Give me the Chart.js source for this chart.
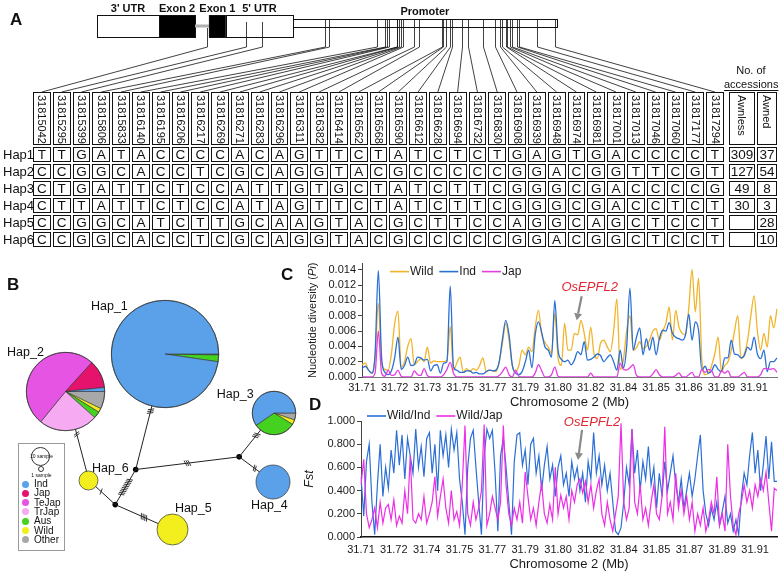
<!DOCTYPE html>
<html>
<head>
<meta charset="utf-8">
<title>OsEPFL2 haplotypes</title>
<script src="https://cdn.jsdelivr.net/npm/chart.js@4.4.1/dist/chart.umd.min.js"></script>
<style>
  body { margin: 0; background: #fff; font-family: "Liberation Sans", Arial, sans-serif; color: #111; }
  #fig { position: relative; width: 780px; height: 572px; overflow: hidden; }
  #fig canvas { position: absolute; }
  .tag { position: absolute; font-weight: bold; font-size: 17px; line-height: 1; }
  #snpTable { position: absolute; left: 0; top: 92px; display: grid;
    grid-template-columns: 31px repeat(35, 17.8px) 1px 26px 20px;
    grid-template-rows: 53px repeat(6, 15px); column-gap: 2px; row-gap: 2px; }
  .cell { border: 1px solid #111; box-sizing: border-box; display: flex; align-items: center;
    justify-content: center; font-size: 13.5px; line-height: 1; }
  .head { writing-mode: vertical-rl; font-size: 11px; justify-content: flex-start; padding-top: 2px; }
  .rowlab { font-size: 13px; display: flex; align-items: center; padding-left: 3px; }
  #acc { position: absolute; left: 724px; top: 63px; width: 54px; text-align: center; font-size: 11px; line-height: 14px; }
  #acc u { text-underline-offset: 2px; }
  #legB { position: absolute; left: 18px; top: 443px; width: 47px; height: 108px; border: 1px solid #9a9a9a; box-sizing: border-box; }
  #legB .sz { position: absolute; border: 1px solid #333; border-radius: 50%; box-sizing: border-box; }
  #legB .tiny { position: absolute; left: 0; width: 100%; text-align: center; font-size: 5px; line-height: 5px; }
  #legB .dot { position: absolute; left: 3px; width: 7px; height: 7px; border-radius: 50%; }
  #legB .lab { position: absolute; left: 15px; font-size: 10px; line-height: 10px; }
</style>
</head>
<body>
<div id="fig">
  <canvas id="geneChart" width="780" height="93" style="left:0;top:0"></canvas>
  <div class="tag" style="left:10px;top:11px">A</div>
  <div id="acc">No. of<br><u>accessions</u></div>
  <div id="snpTable"></div>
  <canvas id="netChart" width="330" height="322" style="left:0;top:250px"></canvas>
  <div class="tag" style="left:7px;top:276px">B</div>
  <div id="legB"></div>
  <canvas id="piChart" width="480" height="155" style="left:300px;top:255px"></canvas>
  <canvas id="fstChart" width="480" height="167" style="left:300px;top:405px"></canvas>
  <div class="tag" style="left:281px;top:266px">C</div>
  <div class="tag" style="left:309px;top:396px">D</div>
</div>

<script>
// ── A : structure du gène et SNP ─────────────────────────────
const geneView = [31813702, 31818750];           // fenêtre affichée (pb)
const partName  = ["3' UTR", 'Exon 2', '', 'Exon 1', "5' UTR", 'Promoter'];
const partKind  = ['utr', 'exon', 'intron', 'exon', 'utr', 'promoter'];
const partStart = [31814330, 31814731, 31814964, 31815054, 31815164, 31815598];
const partEnd   = [31814731, 31814964, 31815054, 31815164, 31815598, 31817306];

const snpPos = [31815042, 31815295, 31815399, 31815806, 31815833, 31816140, 31816195,
  31816206, 31816217, 31816269, 31816271, 31816283, 31816296, 31816311, 31816382,
  31816414, 31816562, 31816568, 31816590, 31816612, 31816628, 31816694, 31816732,
  31816830, 31816908, 31816939, 31816948, 31816974, 31816981, 31817001, 31817013,
  31817046, 31817060, 31817177, 31817294];
const hapNames = ['Hap1', 'Hap2', 'Hap3', 'Hap4', 'Hap5', 'Hap6'];
const hapSeqs = [
  'TTGATACCCCACAGTTCTATCTCTGAGTGACCCCT',
  'CCGGCACCTCGCAGGTACGCCCCCGGACGGTTCGT',
  'CTGATTCTCCATTGTGCTATCTTCGGGCGACCCCG',
  'CTTATTCTCCATAGTTCTATCTTCGGGCGACCTCT',
  'CCGGCATCTTGCAAGTACGCTTCCAGGCAGCTCCT',
  'CCGGCACCTCGCAGGTACGCCCCCGGACGGCTCCT'
];
const awnless = [309, 127, 49, 30, null, null];
const awned   = [37, 54, 8, 3, 28, 10];

// ── B : réseau d'haplotypes ──────────────────────────────────
const groupNames  = ['Ind', 'Jap', 'TeJap', 'TrJap', 'Aus', 'Wild', 'Other'];
const groupColors = ['#5ba1ea', '#e5136b', '#e654e3', '#f5aaf1', '#45d11f', '#f3ef1e', '#a8a8a8'];
const nInd   = [338, 3, 34, 33, 0, 0];
const nJap   = [0, 21, 0, 0, 0, 0];
const nTeJap = [0, 92, 0, 0, 0, 0];
const nTrJap = [0, 44, 0, 0, 0, 0];
const nAus   = [7, 5, 18, 0, 0, 0];
const nWild  = [0, 3, 2, 0, 28, 10];
const nOther = [1, 13, 3, 0, 0, 0];
const groupCounts = [nInd, nJap, nTeJap, nTrJap, nAus, nWild, nOther];

const nodeNames = ['Hap_1', 'Hap_2', 'Hap_3', 'Hap_4', 'Hap_5', 'Hap_6', 'mv1', 'mv2', 'mv3'];
const nodeX = [165, 63, 277, 276, 173, 87, 135, 241, 114];
const nodeY = [103, 141, 163, 234, 283, 232, 221, 208, 257];
const labelX = [108, 22, 237, 272, 194, 109];
const labelY = [54, 101, 144, 258, 261, 220];
const edgeFrom = [1, 5, 8, 8, 6, 6, 7, 7];
const edgeTo   = [5, 8, 4, 6, 0, 7, 2, 3];
const edgeMut  = [2, 1, 4, 10, 3, 3, 3, 2];
const hatchAt  = [0.12, 0.28, 0.66, 0.5, 0.93, 0.5, 0.8, 0.75];

// ── C : diversité nucléotidique (Pi) ─────────────────────────
const piTicks = ['31.71', '31.72', '31.73', '31.75', '31.77', '31.79', '31.80', '31.82', '31.84', '31.85', '31.86', '31.89', '31.91'];
const piYTicks = [0, 0.002, 0.004, 0.006, 0.008, 0.010, 0.012, 0.014];
const piWild = [0.0016,0.0018,0.0009,0.0005,0.0025,0.0096,0.0018,0.0010,0.0009,0.0030,
  0.0070,0.0086,0.0013,0.0020,0.0040,0.0050,0.0016,0.0020,0.0024,0.0020,
  0.0039,0.0018,0.0021,0.0020,0.0020,0.0020,0.0022,0.0066,0.0009,0.0018,
  0.0026,0.0006,0.0011,0.0007,0.0011,0.0009,0.0015,0.0025,0.0007,0.0009,
  0.0008,0.0007,0.0020,0.0045,0.0070,0.0048,0.0015,0.0007,0.0015,0.0035,
  0.0029,0.0039,0.0033,0.0065,0.0087,0.0055,0.0045,0.0039,0.0031,0.0083,
  0.0025,0.0015,0.0070,0.0035,0.0035,0.0057,0.0055,0.0074,0.0057,0.0035,
  0.0065,0.0030,0.0024,0.0044,0.0048,0.0040,0.0033,0.0060,0.0102,0.0010,
  0.0022,0.0061,0.0080,0.0035,0.0038,0.0046,0.0037,0.0040,0.0048,0.0060,
  0.0063,0.0048,0.0060,0.0070,0.0091,0.0048,0.0087,0.0065,0.0057,0.0055,
  0.0090,0.0140,0.0085,0.0129,0.0022,0.0003,0.0005,0.0015,0.0031,0.0052,
  0.0007,0.0015,0.0020,0.0035,0.0060,0.0080,0.0024,0.0030,0.0048,0.0080,
  0.0106,0.0060,0.0035,0.0057,0.0039,0.0080,0.0064,0.0089];
const piInd = [0.0011,0.0014,0.0009,0.0005,0.0030,0.0139,0.0025,0.0006,0.0003,0.0008,
  0.0025,0.0052,0.0010,0.0015,0.0026,0.0015,0.0016,0.0026,0.0025,0.0022,
  0.0023,0.0008,0.0015,0.0016,0.0005,0.0018,0.0020,0.0119,0.0013,0.0009,
  0.0006,0.0006,0.0008,0.0008,0.0005,0.0006,0.0004,0.0004,0.0007,0.0009,
  0.0008,0.0009,0.0020,0.0050,0.0074,0.0055,0.0015,0.0005,0.0003,0.0007,
  0.0020,0.0035,0.0012,0.0055,0.0072,0.0058,0.0039,0.0035,0.0026,0.0100,
  0.0035,0.0023,0.0020,0.0022,0.0016,0.0022,0.0033,0.0029,0.0046,0.0022,
  0.0023,0.0026,0.0030,0.0028,0.0020,0.0025,0.0029,0.0020,0.0009,0.0035,
  0.0012,0.0040,0.0116,0.0035,0.0052,0.0064,0.0029,0.0050,0.0035,0.0052,
  0.0029,0.0050,0.0061,0.0060,0.0071,0.0057,0.0052,0.0050,0.0048,0.0055,
  0.0082,0.0048,0.0072,0.0061,0.0009,0.0014,0.0005,0.0008,0.0016,0.0010,
  0.0007,0.0025,0.0025,0.0048,0.0030,0.0029,0.0025,0.0028,0.0039,0.0035,
  0.0052,0.0030,0.0024,0.0035,0.0007,0.0020,0.0020,0.0025];
const piJap = [0,0,0,0,0.0005,0.0060,0.0005,0.0001,0.0009,0.0002,
  0.0003,0.0009,0.0001,0,0,0,0.0008,0.0003,0.0002,0.0011,
  0.0002,0,0,0,0,0.0003,0.0010,0.0019,0.0005,0,
  0,0,0,0,0,0,0,0,0,0,
  0,0,0.0002,0.0007,0.0013,0.0003,0,0.0009,0.0001,0,
  0,0,0,0.0005,0.0016,0.0008,0,0,0.0003,0.0013,
  0.0001,0,0,0,0,0,0,0,0,0,
  0.0005,0,0,0,0,0,0,0,0,0.0018,
  0.0010,0.0009,0.0012,0.0016,0.0002,0,0,0,0,0.0004,
  0.00095,0.0003,0,0,0,0,0.0002,0.00055,0,0,
  0.0003,0.0006,0,0,0.0010,0.0006,0.0010,0.0008,0,0,
  0.0008,0.0005,0.0008,0,0,0,0.0003,0.0006,0,0,
  0,0,0.0003,0.0011,0.0011,0.0010,0.0011,0.0006];

// ── D : Fst ─────────────────────────────────────────────────
const fstTicks = ['31.71', '31.72', '31.74', '31.75', '31.77', '31.79', '31.80', '31.82', '31.84', '31.85', '31.87', '31.89', '31.91'];
const fstYTicks = [0, 0.2, 0.4, 0.6, 0.8, 1.0];
const fstInd = [0.52,0.18,0.65,0.80,0.30,0.02,0.45,0.80,0.35,0.60,
  0.42,0.75,0.55,0.92,0.62,0.88,0.50,0.85,0.70,0.55,
  0.93,0.60,0.78,0.52,0.85,0.90,0.55,0.80,0.40,0.92,
  0.70,0.88,0.60,0.93,0.75,0.90,0.50,0.30,0.02,0.60,
  0.85,0.92,0.60,0.30,0.02,0.70,0.93,0.85,0.92,0.55,
  0.05,0.70,0.85,0.60,0.30,0.02,0.65,0.88,0.90,0.62,
  0.75,0.45,0.80,0.85,0.55,0.70,0.40,0.62,0.78,0.50,
  0.62,0.35,0.60,0.70,0.45,0.55,0.35,0.65,0.50,0.60,
  0.40,0.55,0.30,0.65,0.50,0.90,0.55,0.70,0.45,0.62,
  0.40,0.55,0.30,0.05,0.02,0.08,0.30,0.60,0.45,0.93,
  0.55,0.75,0.40,0.65,0.50,0.78,0.45,0.60,0.25,0.55,
  0.35,0.65,0.40,0.55,0.70,0.45,0.30,0.50,0.25,0.40,
  0.55,0.35,0.50,0.70,0.88,0.40,0.20,0.10,0.25,0.15,
  0.30,0.10,0.22,0.35,0.12,0.20,0.05,0.15,0.02,0.35,
  0.55,0.45,0.70,0.90,0.55,0.75,0.40,0.62,0.87,0.50,
  0.82,0.48,0.48];
const fstJap = [0.45,0.67,0.20,0.08,0.15,0.25,0.08,0.30,0.12,0.25,
  0.28,0.15,0.32,0.10,0.18,0.12,0.40,0.20,0.70,0.15,
  0.12,0.20,0.15,0.35,0.12,0.20,0.30,0.52,0.18,0.35,
  0.50,0.25,0.12,0.40,0.15,0.22,0.10,0.45,0.96,0.20,
  0.10,0.30,0.15,0.25,0.40,0.97,0.10,0.20,0.35,0.25,
  0.15,0.30,0.96,0.45,0.20,0.10,0.25,0.15,0.30,0.12,
  0.56,0.35,0.15,0.25,0.10,0.30,0.46,0.20,0.12,0.28,
  0.15,0.60,0.20,0.36,0.25,0.35,0.15,0.40,0.30,0.45,
  0.50,0.38,0.48,0.30,0.45,0.25,0.40,0.50,0.20,0.10,
  0.30,0.15,0.05,0.20,0.35,0.98,0.30,0.15,0.25,0.93,
  0.30,0.20,0.45,0.15,0.25,0.10,0.30,0.45,0.20,0.15,
  0.35,0.95,0.20,0.30,0.15,0.55,0.25,0.40,0.20,0.35,
  0.15,0.30,0.05,0.20,0.10,0.25,0.05,0.15,0.30,0.20,
  0.52,0.10,0.20,0.05,0.80,0.35,0.10,0.02,0.20,0.30,
  0.45,0.30,0.40,0.25,0.45,0.35,0.50,0.40,0.56,0.30,
  0.05,0.42,0.40];
const geneName = 'OsEPFL2';

// ── Réglages communs ─────────────────────────────────────────
const FONT = '"Liberation Sans", Arial, sans-serif';
Chart.defaults.font.family = FONT;
Chart.defaults.color = '#1a1a1a';
Chart.defaults.animation = false;
Chart.defaults.events = [];
Chart.defaults.plugins.legend.display = false;
Chart.defaults.plugins.tooltip.enabled = false;

// ── Tableau des haplotypes (HTML) ────────────────────────────
const tbl = document.getElementById('snpTable');
const addCell = (cls, txt) => {
  const d = document.createElement('div');
  d.className = cls;
  d.textContent = txt == null ? '' : txt;
  tbl.appendChild(d);
};
addCell('', '');
snpPos.forEach(p => addCell('cell head snp', p));
addCell('', '');
addCell('cell head', 'Awnless');
addCell('cell head', 'Awned');
hapNames.forEach((h, r) => {
  addCell('rowlab', h);
  [...hapSeqs[r]].forEach(b => addCell('cell', b));
  addCell('', '');
  addCell('cell', awnless[r]);
  addCell('cell', awned[r]);
});

// ── Modèle du gène + traits vers les colonnes ────────────────
const genePlugin = {
  id: 'geneModel',
  afterDraw(chart, args, o) {
    const { ctx } = chart;
    const px = v => chart.scales.x.getPixelForValue(v);
    const mid = o.bodyTop + o.bodyH / 2;
    ctx.save();
    ctx.strokeStyle = '#111';
    ctx.lineWidth = 1;
    partKind.forEach((k, i) => {
      const a = px(partStart[i]), b = px(partEnd[i]);
      if (k === 'intron') {
        ctx.fillStyle = '#b0b0b0';
        ctx.fillRect(a, mid - 1.5, b - a, 3);
        return;
      }
      const top = k === 'promoter' ? o.promTop : o.bodyTop;
      const h = k === 'promoter' ? o.promH : o.bodyH;
      ctx.fillStyle = k === 'exon' ? '#000' : '#fff';
      ctx.fillRect(a, top, b - a, h);
      ctx.strokeRect(Math.round(a) + 0.5, top + 0.5, Math.round(b - a), h);
    });

    ctx.fillStyle = '#111';
    ctx.font = 'bold 11px "Liberation Sans Narrow", ' + FONT;
    ctx.textAlign = 'center';
    ctx.textBaseline = 'middle';
    partName.forEach((n, i) => {
      if (!n) return;
      const c = (px(partStart[i]) + px(partEnd[i])) / 2;
      ctx.fillText(n, c, partKind[i] === 'promoter' ? o.promLabelY : o.labelY);
    });

    const cv = chart.canvas.getBoundingClientRect();
    const heads = document.querySelectorAll('#snpTable .snp');
    ctx.lineWidth = 0.8;
    ctx.beginPath();
    snpPos.forEach((p, i) => {
      const sx = Math.round(px(p)) + 0.5;
      const kind = partKind[partStart.findIndex((s, j) => p >= s && p < partEnd[j])];
      const y0 = kind === 'promoter' ? o.promTop : kind === 'intron' ? mid + 2 : o.bodyTop + 7;
      const r = heads[i].getBoundingClientRect();
      ctx.moveTo(sx, y0);
      ctx.lineTo(sx, o.kneeY);
      ctx.lineTo(r.left + r.width / 2 - cv.left, r.top - cv.top);
    });
    ctx.stroke();
    ctx.restore();
  }
};

new Chart(document.getElementById('geneChart'), {
  type: 'scatter',
  data: { datasets: [] },
  options: {
    responsive: false,
    layout: { padding: 0 },
    scales: {
      x: { type: 'linear', min: geneView[0], max: geneView[1], display: false },
      y: { display: false }
    },
    plugins: { geneModel: { bodyTop: 15, bodyH: 22, promTop: 19, promH: 8, kneeY: 47, labelY: 9, promLabelY: 12 } }
  },
  plugins: [genePlugin]
});

// ── B : réseau (arêtes, mutations, étiquettes) ───────────────
const PIE_K = 2.9;   // rayon = PIE_K * sqrt(n)
const hapTotal = nodeNames.slice(0, 6).map((_, h) => groupCounts.reduce((s, g) => s + g[h], 0));
const nodeRadius = k => (k < 6 ? PIE_K * Math.sqrt(hapTotal[k]) : 0);

const hatchPlugin = {
  id: 'hatch',
  afterDatasetsDraw(chart) {
    const { ctx } = chart;
    const { x, y } = chart.scales;
    ctx.save();
    ctx.strokeStyle = '#222';
    ctx.lineWidth = 0.9;
    edgeFrom.forEach((a, e) => {
      const b = edgeTo[e];
      const x1 = x.getPixelForValue(nodeX[a]), y1 = y.getPixelForValue(nodeY[a]);
      const x2 = x.getPixelForValue(nodeX[b]), y2 = y.getPixelForValue(nodeY[b]);
      const len = Math.hypot(x2 - x1, y2 - y1);
      const ux = (x2 - x1) / len, uy = (y2 - y1) / len;
      const r1 = nodeRadius(a), r2 = nodeRadius(b);
      const t = r1 + (len - r1 - r2) * hatchAt[e];
      const m = edgeMut[e];
      for (let k = 0; k < m; k++) {
        const s = t + (k - (m - 1) / 2) * 1.9;
        const cx = x1 + ux * s, cy = y1 + uy * s;
        ctx.beginPath();
        ctx.moveTo(cx - uy * 3 + ux * 1.2, cy + ux * 3 + uy * 1.2);
        ctx.lineTo(cx + uy * 3 - ux * 1.2, cy - ux * 3 - uy * 1.2);
        ctx.stroke();
      }
    });
    ctx.fillStyle = '#111';
    ctx.font = '12.5px ' + FONT;
    ctx.textAlign = 'center';
    ctx.textBaseline = 'middle';
    labelX.forEach((lx, k) => ctx.fillText(nodeNames[k], x.getPixelForValue(lx), y.getPixelForValue(labelY[k])));
    ctx.restore();
  }
};

const netCanvas = document.getElementById('netChart');
const netChart = new Chart(netCanvas, {
  type: 'scatter',
  data: {
    datasets: [
      ...edgeFrom.map((a, e) => ({
        data: [{ x: nodeX[a], y: nodeY[a] }, { x: nodeX[edgeTo[e]], y: nodeY[edgeTo[e]] }],
        showLine: true, borderColor: '#222', borderWidth: 1, pointRadius: 0
      })),
      {
        data: nodeX.slice(6).map((vx, i) => ({ x: vx, y: nodeY[6 + i] })),
        pointRadius: 2.8, pointBackgroundColor: '#000', pointBorderWidth: 0
      }
    ]
  },
  options: {
    responsive: false,
    layout: { padding: 0 },
    scales: {
      x: { type: 'linear', min: 0, max: 330, display: false },
      y: { type: 'linear', min: 0, max: 322, reverse: true, display: false }
    }
  },
  plugins: [hatchPlugin]
});

// contour des camemberts (évite le trait radial des disques pleins)
const pieOutline = {
  id: 'pieOutline',
  afterDatasetsDraw(chart) {
    const arc = chart.getDatasetMeta(0).data[0];
    if (!arc) return;
    const { x, y, outerRadius } = arc.getProps(['x', 'y', 'outerRadius'], true);
    const { ctx } = chart;
    ctx.save();
    ctx.strokeStyle = '#333';
    ctx.lineWidth = 0.7;
    ctx.beginPath();
    ctx.arc(x, y, outerRadius, 0, Math.PI * 2);
    ctx.stroke();
    ctx.restore();
  }
};

// camemberts de chaque haplotype
const fig = document.getElementById('fig');
const clockwise = [6, 5, 4, 3, 2, 1, 0];
for (let h = 0; h < 6; h++) {
  const r = nodeRadius(h);
  const size = Math.ceil(2 * r) + 2;
  const cx = netCanvas.offsetLeft + netChart.scales.x.getPixelForValue(nodeX[h]);
  const cy = netCanvas.offsetTop + netChart.scales.y.getPixelForValue(nodeY[h]);
  const cv = document.createElement('canvas');
  cv.width = size; cv.height = size;
  cv.style.left = (cx - size / 2) + 'px';
  cv.style.top = (cy - size / 2) + 'px';
  fig.appendChild(cv);
  const idx = clockwise.filter(g => groupCounts[g][h] > 0);
  new Chart(cv, {
    type: 'pie',
    data: {
      labels: idx.map(g => groupNames[g]),
      datasets: [{
        data: idx.map(g => groupCounts[g][h]),
        backgroundColor: idx.map(g => groupColors[g]),
        borderColor: '#333',
        borderWidth: idx.length > 1 ? 0.6 : 0
      }]
    },
    options: { responsive: false, rotation: 90, layout: { padding: 1 } },
    plugins: [pieOutline]
  });
}

// légende du réseau
const legB = document.getElementById('legB');
legB.innerHTML =
  '<div class="sz" style="left:12px;top:3px;width:19px;height:19px"></div>' +
  '<div class="tiny" style="top:10px">10 sample</div>' +
  '<div class="sz" style="left:19px;top:22px;width:6px;height:6px"></div>' +
  '<div class="tiny" style="top:29px">1 sample</div>';
groupNames.forEach((g, i) => {
  const top = 40 + i * 9.3;
  legB.insertAdjacentHTML('beforeend',
    `<div class="dot" style="top:${top - 3.5}px;background:${groupColors[i]}"></div>` +
    `<div class="lab" style="top:${top - 5}px">${g}</div>`);
});

// ── C & D : légende, titre Y, flèche du gène ─────────────────
const decorPlugin = {
  id: 'decor',
  afterDraw(chart, args, o) {
    const { ctx, chartArea: a, scales } = chart;
    ctx.save();
    ctx.translate(a.left + o.titleDx, (a.top + a.bottom) / 2);
    ctx.rotate(-Math.PI / 2);
    ctx.fillStyle = '#1a1a1a';
    ctx.textBaseline = 'middle';
    ctx.textAlign = 'left';
    const fontOf = it => (it ? 'italic ' : '') + o.titleSize + 'px ' + FONT;
    let w = 0;
    o.title.forEach(p => { ctx.font = fontOf(p[1]); w += ctx.measureText(p[0]).width; });
    let tx0 = -w / 2;
    o.title.forEach(p => { ctx.font = fontOf(p[1]); ctx.fillText(p[0], tx0, 0); tx0 += ctx.measureText(p[0]).width; });
    ctx.restore();

    ctx.save();
    let lx = a.left + o.legDx;
    const ly = a.top + o.legDy;
    ctx.font = '12px ' + FONT;
    ctx.textBaseline = 'middle';
    chart.data.datasets.forEach(ds => {
      ctx.strokeStyle = ds.borderColor;
      ctx.lineWidth = 1.6;
      ctx.beginPath(); ctx.moveTo(lx, ly); ctx.lineTo(lx + 19, ly); ctx.stroke();
      ctx.fillStyle = '#1a1a1a';
      ctx.fillText(ds.label, lx + 20, ly);
      lx += 20 + ctx.measureText(ds.label).width + 6;
    });

    const m = o.mark;
    const tx = scales.x.getPixelForValue(m.idx), ty = scales.y.getPixelForValue(m.val);
    const sx = tx + m.tailDx, sy = ty + m.tailDy;
    const ang = Math.atan2(ty - sy, tx - sx);
    const hx = tx - 7 * Math.cos(ang), hy = ty - 7 * Math.sin(ang);
    ctx.strokeStyle = '#8a8a8a';
    ctx.fillStyle = '#8a8a8a';
    ctx.lineWidth = 2.2;
    ctx.beginPath(); ctx.moveTo(sx, sy); ctx.lineTo(hx, hy); ctx.stroke();
    ctx.beginPath();
    ctx.moveTo(tx, ty);
    ctx.lineTo(hx + 4 * Math.sin(ang), hy - 4 * Math.cos(ang));
    ctx.lineTo(hx - 4 * Math.sin(ang), hy + 4 * Math.cos(ang));
    ctx.closePath(); ctx.fill();
    ctx.fillStyle = '#e0262e';
    ctx.font = 'italic 13px ' + FONT;
    ctx.textAlign = 'center';
    ctx.fillText(m.text, tx + m.textDx, ty + m.textDy);
    ctx.restore();
  }
};

new Chart(document.getElementById('piChart'), {
  type: 'line',
  data: {
    labels: piInd.map((_, i) => i),
    datasets: [
      { label: 'Wild', data: piWild, borderColor: '#f0b429', order: 3 },
      { label: 'Ind', data: piInd, borderColor: '#2a6fd4', order: 2 },
      { label: 'Jap', data: piJap, borderColor: '#e53ce3', order: 1 }
    ]
  },
  options: {
    responsive: false,
    layout: { padding: { top: 8, right: 3, left: 0, bottom: 0 } },
    elements: { point: { radius: 0 }, line: { borderWidth: 1.3, cubicInterpolationMode: 'monotone' } },
    scales: {
      x: {
        grid: { display: false, drawTicks: false },
        border: { color: '#777' },
        ticks: { autoSkip: false, maxRotation: 0, padding: 4, font: { size: 11 },
          callback: (v, i) => (i % 10 === 0 ? piTicks[i / 10] : null) },
        title: { display: true, text: 'Chromosome 2 (Mb)', font: { size: 13 }, padding: 0 },
        afterFit: s => { s.height = 33; }
      },
      y: {
        min: 0, max: 0.0148,
        grid: { drawOnChartArea: false, tickLength: 4, color: '#444' },
        border: { color: '#444' },
        ticks: { padding: 2, font: { size: 11 }, callback: v => v.toFixed(3) },
        afterBuildTicks: s => { s.ticks = piYTicks.map(v => ({ value: v })); },
        afterFit: s => { s.width = 62; }
      }
    },
    plugins: {
      decor: {
        titleDx: -49, titleSize: 11,
        title: [['Nucleotide diversity (', false], ['Pi', true], [')', false]],
        legDx: 28, legDy: 8,
        mark: { idx: 65.7, val: 0.0074, tailDx: 5, tailDy: -24, textDx: 13, textDy: -33, text: geneName }
      }
    }
  },
  plugins: [decorPlugin]
});

new Chart(document.getElementById('fstChart'), {
  type: 'line',
  data: {
    labels: fstInd.map((_, i) => i),
    datasets: [
      { label: 'Wild/Ind', data: fstInd, borderColor: '#2b6fd6', order: 2 },
      { label: 'Wild/Jap', data: fstJap, borderColor: '#ec2ee6', order: 1 }
    ]
  },
  options: {
    responsive: false,
    layout: { padding: { top: 16, right: 3, left: 0, bottom: 0 } },
    elements: { point: { radius: 0 }, line: { borderWidth: 1.2, tension: 0 } },
    scales: {
      x: {
        grid: { display: false, drawTicks: false },
        border: { color: '#111', width: 1.5 },
        ticks: { autoSkip: false, maxRotation: 0, padding: 6, font: { size: 11 },
          callback: (v, i) => (i % 12 === 0 ? fstTicks[i / 12] : null) },
        title: { display: true, text: 'Chromosome 2 (Mb)', font: { size: 13 }, padding: 0 },
        afterFit: s => { s.height = 35; }
      },
      y: {
        min: 0, max: 1,
        grid: { drawOnChartArea: false, tickLength: 4, color: '#444' },
        border: { color: '#444' },
        ticks: { padding: 2, font: { size: 11 }, callback: v => v.toFixed(3) },
        afterBuildTicks: s => { s.ticks = fstYTicks.map(v => ({ value: v })); },
        afterFit: s => { s.width = 61; }
      }
    },
    plugins: {
      decor: {
        titleDx: -51, titleSize: 12.5,
        title: [['Fst', true]],
        legDx: 6, legDy: -5,
        mark: { idx: 79.3, val: 0.664, tailDx: 4, tailDy: -30, textDx: 14, textDy: -38, text: geneName }
      }
    }
  },
  plugins: [decorPlugin]
});
</script>
</body>
</html>
